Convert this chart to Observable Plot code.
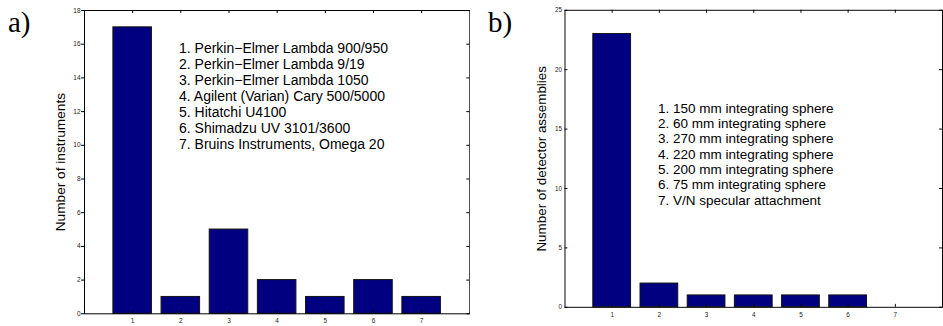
<!DOCTYPE html>
<html><head><meta charset="utf-8">
<script src="https://cdn.jsdelivr.net/npm/d3@7"></script>
<script src="https://cdn.jsdelivr.net/npm/@observablehq/plot@0.6"></script>
<style>
html,body{margin:0;padding:0;background:#fff;overflow:hidden;}
#fig{position:relative;width:943px;height:326px;overflow:hidden;background:#fff;}
.panel{position:absolute;top:0;}
.plabel{position:absolute;font-family:"Liberation Serif","Times New Roman",serif;font-size:29px;line-height:29px;color:#000;}
</style></head><body>
<div id="fig"></div>
<script>
// ---- data ----
const categories = [1, 2, 3, 4, 5, 6, 7];
const instrumentCounts = [17, 1, 5, 2, 1, 2, 1];
const detectorCounts = [23, 2, 1, 1, 1, 1, 0];
const instrumentNames = [
  "1. Perkin\u2212Elmer Lambda 900/950",
  "2. Perkin\u2212Elmer Lambda 9/19",
  "3. Perkin\u2212Elmer Lambda 1050",
  "4. Agilent (Varian) Cary 500/5000",
  "5. Hitatchi U4100",
  "6. Shimadzu UV 3101/3600",
  "7. Bruins Instruments, Omega 20"
];
const detectorNames = [
  "1. 150 mm integrating sphere",
  "2. 60 mm integrating sphere",
  "3. 270 mm integrating sphere",
  "4. 220 mm integrating sphere",
  "5. 200 mm integrating sphere",
  "6. 75 mm integrating sphere",
  "7. V/N specular attachment"
];
const xTicks = [1, 2, 3, 4, 5, 6, 7];
const xDomain = [0, 8];
const yTicksA = [0, 2, 4, 6, 8, 10, 12, 14, 16, 18];
const yTicksB = [0, 5, 10, 15, 20, 25];
const yLabelA = "Number of instruments";
const yLabelB = "Number of detector assemblies";

const FONT = '"Liberation Sans", Arial, Helvetica, sans-serif';
const fig = document.getElementById("fig");

function panel(cfg) {
  const data = categories.map((c, i) => ({cat: c, value: cfg.values[i]})).filter(d => d.value > 0);
  const fw = cfg.width - cfg.ml - cfg.mr;
  const fh = cfg.height - cfg.mt - cfg.mb;
  const yMax = cfg.yTicks[cfg.yTicks.length - 1];
  const marks = [
    Plot.rectY(data, {x1: d => d.cat - 0.4, x2: d => d.cat + 0.4, y1: 0, y2: "value",
      fill: "#000080", stroke: "#111", strokeWidth: 1}),
    // inside ticks top / bottom
    Plot.tickX(xTicks, {x: d => d, insetBottom: fh - 3, stroke: "#000"}),
    Plot.tickX(xTicks, {x: d => d, insetTop: fh - 3, stroke: "#000"}),
    // inside ticks right
    Plot.tickY(cfg.yTicks, {y: d => d, insetLeft: fw - 3, stroke: "#000"}),
    Plot.axisX(xTicks, {anchor: "bottom", tickSize: 0, tickPadding: 5, label: null,
      tickFormat: d => String(d), fill: "#222"}),
    Plot.axisY(cfg.yTicks, {anchor: "left", tickSize: cfg.leftOutside ? 3 : 0,
      tickPadding: cfg.leftOutside ? 1 : 3, label: null, tickFormat: d => String(d), fill: "#222"}),
    Plot.frame({stroke: "#000", strokeWidth: 1}),
    Plot.text([cfg.yLabel], {frameAnchor: "left", textAnchor: "middle", lineAnchor: "middle",
      rotate: -90, dx: cfg.labelDx, text: d => d, fontSize: 13.7, fill: "#000"}),
    Plot.text([cfg.names.join("\n")], {frameAnchor: "top-left", textAnchor: "start", lineAnchor: "top",
      dx: cfg.legDx, dy: cfg.legDy, text: d => d, fontSize: cfg.legFont, lineHeight: cfg.legLine / cfg.legFont,
      fill: "#000"})
  ];
  if (!cfg.leftOutside) marks.push(Plot.tickY(cfg.yTicks, {y: d => d, insetRight: fw - 3, stroke: "#000"}));
  const chart = Plot.plot({
    width: cfg.width, height: cfg.height,
    marginLeft: cfg.ml, marginRight: cfg.mr, marginTop: cfg.mt, marginBottom: cfg.mb,
    x: {type: "linear", domain: xDomain},
    y: {type: "linear", domain: [0, yMax]},
    style: {fontFamily: FONT, fontSize: "6.5px", background: "transparent", color: "#000"},
    marks
  });
  const wrap = document.createElement("div");
  wrap.className = "panel";
  wrap.style.left = cfg.left + "px";
  wrap.appendChild(chart);
  fig.appendChild(wrap);
  const lab = document.createElement("div");
  lab.className = "plabel";
  lab.textContent = cfg.tag;
  lab.style.left = cfg.tagLeft + "px";
  lab.style.top = "8px";
  fig.appendChild(lab);
}

panel({left: 0, width: 470, height: 326, ml: 84, mr: 0.7, mt: 10, mb: 12.7,
  values: instrumentCounts, yTicks: yTicksA, yLabel: yLabelA, names: instrumentNames,
  labelDx: -24, legDx: 94.5, legDy: 31, legFont: 14, legLine: 16, leftOutside: true,
  tag: "a)", tagLeft: 8});

panel({left: 470, width: 483, height: 326, ml: 96.5, mr: 1, mt: 10, mb: 12.7,
  values: detectorCounts, yTicks: yTicksB, yLabel: yLabelB, names: detectorNames,
  labelDx: -23.5, legDx: 95, legDy: 93.3, legFont: 13.8, legLine: 15.7, leftOutside: false,
  tag: "b)", tagLeft: 488});
</script>
</body></html>
